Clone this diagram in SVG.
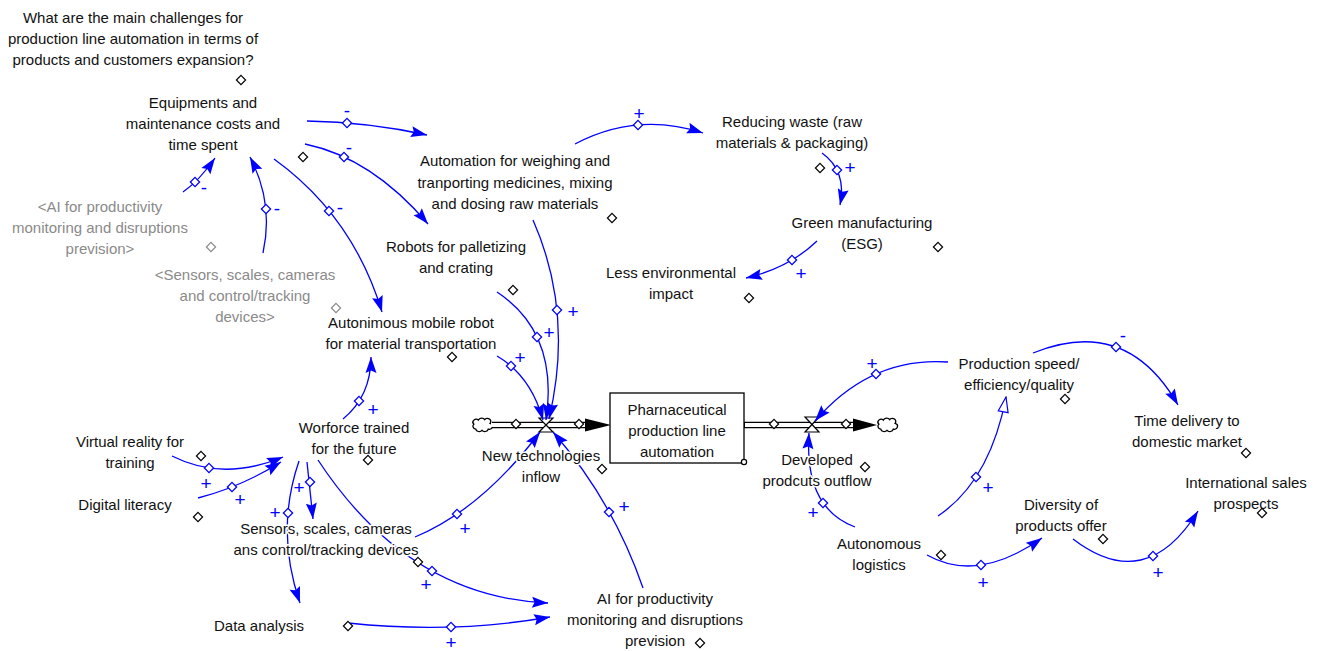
<svg xmlns="http://www.w3.org/2000/svg" width="1322" height="651" viewBox="0 0 1322 651">
<style>
.t{font-family:"Liberation Sans",Arial,sans-serif;font-size:15px;fill:#111;text-anchor:middle;stroke:#fff;stroke-width:3;stroke-linejoin:round;paint-order:stroke}
.g{fill:#8a8a8a}
.pol{font-family:"Liberation Sans",Arial,sans-serif;font-size:19px;fill:#00f;text-anchor:middle}
.lk{fill:none;stroke:#00f;stroke-width:1.3;marker-end:url(#ah)}
.lkh{fill:none;stroke:#00f;stroke-width:1.3;marker-end:url(#ahh)}
.vd{fill:#fff;stroke:#000;stroke-width:1.2}
.gd{fill:#fff;stroke:#8a8a8a;stroke-width:1.2}
.bd{fill:#fff;stroke:#00f;stroke-width:1.3}
.pipeo{stroke:#000;stroke-width:6.5}
.pipei{stroke:#fff;stroke-width:3.8}
.cloud{fill:#fff;stroke:#000;stroke-width:1.5}
.valve{fill:#fff;stroke:#000;stroke-width:1.2}
</style>
<defs>
<path id="dm" d="M0,-4.6 L4.6,0 L0,4.6 L-4.6,0 Z"/>
<path id="cl" d="M-7,5 A3.5,3.5 0 0 1 -9,-1 A3.5,3.5 0 0 1 -4,-6 A4,4 0 0 1 3,-6.5 A3.5,3.5 0 0 1 9,-2 A3.5,3.5 0 0 1 7,5 A4,4 0 0 1 0,6.5 A4,4 0 0 1 -7,5 Z"/>
<marker id="ah" viewBox="-17 -7 18 14" refX="0" refY="0" markerWidth="18" markerHeight="14" markerUnits="userSpaceOnUse" orient="auto"><path d="M0,0 L-16,-5.5 L-13.5,0 L-16,5.5 Z" fill="#00f"/></marker>
<marker id="ahh" viewBox="-17 -7 18 14" refX="0" refY="0" markerWidth="18" markerHeight="14" markerUnits="userSpaceOnUse" orient="auto"><path d="M0,0 L-15,-5 L-15,5 Z" fill="#fff" stroke="#00f" stroke-width="1.2"/></marker>
</defs>
<rect width="1322" height="651" fill="#fff"/>

<g id="flow-in">
<use href="#cl" class="cloud" transform="translate(482,425) scale(0.9,0.82)"/>
<line class="pipeo" x1="492" y1="425" x2="588" y2="425"/>
<line class="pipei" x1="491" y1="425" x2="588" y2="425"/>
<polygon points="585,418.5 611,425 585,431.5" fill="#000"/>
<use href="#dm" class="vd" x="516" y="424"/>
<use href="#dm" class="vd" x="579" y="424"/>
<path class="valve" d="M539,418 H553 L539,432 H553 Z"/>
</g>
<g id="flow-out">
<line class="pipeo" x1="744" y1="425" x2="856" y2="425"/>
<line class="pipei" x1="745" y1="425" x2="856" y2="425"/>
<polygon points="853,418.5 877,425 853,431.5" fill="#000"/>
<use href="#cl" class="cloud" transform="translate(887,425) scale(0.9,0.82)"/>
<use href="#dm" class="vd" x="774" y="424"/>
<use href="#dm" class="vd" x="846" y="424"/>
<path class="valve" d="M805,417 H819 L805,432 H819 Z"/>
</g>
<g id="stock">
<rect x="610" y="393" width="134" height="70" fill="#fff" stroke="#000" stroke-width="1.3"/>
<circle cx="744" cy="462" r="2.6" fill="#fff" stroke="#000" stroke-width="1.2"/>
<text class="t"><tspan x="677" y="415">Pharnaceutical</tspan><tspan x="677" y="436">production line</tspan><tspan x="677" y="457">automation</tspan></text>
</g>

<g id="connectors">
<path class="lk" d="M307,121 Q368,122 427,135"/>
<path class="lk" d="M305,144 Q372,158 428,224"/>
<path class="lk" d="M274,159 Q353,216 382,312"/>
<path class="lk" d="M183,192 Q199,181 215,158"/>
<path class="lk" d="M263,253 Q274,203 250,157"/>
<path class="lk" d="M575,144 Q637,111.5 703,133"/>
<path class="lk" d="M822,153 Q847,171 840,205"/>
<path class="lk" d="M817,241 Q789,268 746,278"/>
<path class="lk" d="M533,220 Q574,313 549,419"/>
<path class="lk" d="M497,292 Q559,333 546,420"/>
<path class="lk" d="M497,356 Q531,376 543,420"/>
<path class="lk" d="M415,537 Q482,509 540,432"/>
<path class="lk" d="M643,588 Q613,501 553,432"/>
<path class="lk" d="M343,419 Q371,396 371,357"/>
<path class="lk" d="M172,456 Q223,482 283,457"/>
<path class="lk" d="M198,498 Q241,487 281,462"/>
<path class="lk" d="M307,462 L313,519"/>
<path class="lk" d="M299,461 Q275,531 300,603"/>
<path class="lk" d="M318,460 Q408,597 548,603"/>
<path class="lk" d="M348,623 Q453,634 550,617"/>
<path class="lk" d="M948,362 Q870.5,356.5 815,421"/>
<path class="lk" d="M1033,353 Q1126.5,315 1178,405"/>
<path class="lkh" d="M938,516 Q990,481 1006,397"/>
<path class="lk" d="M855,527 Q804,508 809,433"/>
<path class="lk" d="M927,555 Q977.5,583.5 1042,538"/>
<path class="lk" d="M1073,539 Q1146,595 1198,511"/>
<g>
<use href="#dm" class="bd" x="347" y="123"/>
<use href="#dm" class="bd" x="344" y="157"/>
<use href="#dm" class="bd" x="329" y="211"/>
<use href="#dm" class="bd" x="195" y="182"/>
<use href="#dm" class="bd" x="266" y="209"/>
<use href="#dm" class="bd" x="638" y="125"/>
<use href="#dm" class="bd" x="837" y="170"/>
<use href="#dm" class="bd" x="792" y="260"/>
<use href="#dm" class="bd" x="557" y="310"/>
<use href="#dm" class="bd" x="537" y="337"/>
<use href="#dm" class="bd" x="511" y="366"/>
<use href="#dm" class="bd" x="457" y="514"/>
<use href="#dm" class="bd" x="609" y="512"/>
<use href="#dm" class="bd" x="359" y="401"/>
<use href="#dm" class="bd" x="209" y="468"/>
<use href="#dm" class="bd" x="232" y="487"/>
<use href="#dm" class="bd" x="310" y="482"/>
<use href="#dm" class="bd" x="288" y="513"/>
<use href="#dm" class="bd" x="432" y="571"/>
<use href="#dm" class="bd" x="451" y="627"/>
<use href="#dm" class="bd" x="876" y="374"/>
<use href="#dm" class="bd" x="1116" y="347"/>
<use href="#dm" class="bd" x="976" y="477"/>
<use href="#dm" class="bd" x="823" y="503"/>
<use href="#dm" class="bd" x="981" y="565"/>
<use href="#dm" class="bd" x="1153" y="556"/>
</g>
<g>
<text class="pol" x="347" y="117">-</text>
<text class="pol" x="349" y="154">-</text>
<text class="pol" x="340" y="214">-</text>
<text class="pol" x="204" y="194">-</text>
<text class="pol" x="277" y="215">-</text>
<text class="pol" x="639" y="119.5">+</text>
<text class="pol" x="850" y="173.5">+</text>
<text class="pol" x="801" y="279.5">+</text>
<text class="pol" x="573" y="317.5">+</text>
<text class="pol" x="549" y="338.5">+</text>
<text class="pol" x="520" y="363.5">+</text>
<text class="pol" x="465" y="534.5">+</text>
<text class="pol" x="624" y="512.5">+</text>
<text class="pol" x="373" y="415.5">+</text>
<text class="pol" x="206" y="489.5">+</text>
<text class="pol" x="240" y="505.5">+</text>
<text class="pol" x="299" y="493.5">+</text>
<text class="pol" x="275" y="519">+</text>
<text class="pol" x="426" y="590.5">+</text>
<text class="pol" x="451" y="648.5">+</text>
<text class="pol" x="872" y="369.5">+</text>
<text class="pol" x="1123" y="342">-</text>
<text class="pol" x="988" y="493.5">+</text>
<text class="pol" x="813" y="518.5">+</text>
<text class="pol" x="983" y="588.5">+</text>
<text class="pol" x="1158" y="578.5">+</text>
</g>
</g>

<g id="question">
<text class="t"><tspan x="133" y="23">What are the main challenges for</tspan><tspan x="133" y="44">production line automation in terms of</tspan><tspan x="133" y="65">products and customers expansion?</tspan></text>
<use href="#dm" class="vd" x="241" y="80"/>
</g>
<g id="equipments">
<text class="t"><tspan x="203" y="108">Equipments and</tspan><tspan x="203" y="129">maintenance costs and</tspan><tspan x="203" y="150">time spent</tspan></text>
<use href="#dm" class="vd" x="303" y="157"/>
</g>
<g id="ai-shadow">
<text class="t g"><tspan x="100" y="212">&lt;AI for productivity</tspan><tspan x="100" y="233">monitoring and disruptions</tspan><tspan x="100" y="254">prevision&gt;</tspan></text>
<use href="#dm" class="gd" x="211" y="247"/>
</g>
<g id="sensors-shadow">
<text class="t g"><tspan x="245" y="280">&lt;Sensors, scales, cameras</tspan><tspan x="245" y="301">and control/tracking</tspan><tspan x="245" y="322">devices&gt;</tspan></text>
<use href="#dm" class="gd" x="336" y="308"/>
</g>
<g id="automation">
<text class="t"><tspan x="515" y="166">Automation for weighing and</tspan><tspan x="515" y="188">tranporting medicines, mixing</tspan><tspan x="515" y="209">and dosing raw materials</tspan></text>
<use href="#dm" class="vd" x="612" y="218"/>
</g>
<g id="robots">
<text class="t"><tspan x="456" y="252">Robots for palletizing</tspan><tspan x="456" y="273">and crating</tspan></text>
<use href="#dm" class="vd" x="513" y="290"/>
</g>
<g id="reducing-waste">
<text class="t"><tspan x="792" y="127">Reducing waste (raw</tspan><tspan x="792" y="148">materials &amp; packaging)</tspan></text>
<use href="#dm" class="vd" x="820" y="168"/>
</g>
<g id="green">
<text class="t"><tspan x="862" y="228">Green manufacturing</tspan><tspan x="862" y="249">(ESG)</tspan></text>
<use href="#dm" class="vd" x="938" y="247"/>
</g>
<g id="less-env">
<text class="t"><tspan x="671" y="278">Less environmental</tspan><tspan x="671" y="299">impact</tspan></text>
<use href="#dm" class="vd" x="749" y="298"/>
</g>
<g id="amr">
<text class="t"><tspan x="411" y="328">Autonimous mobile robot</tspan><tspan x="411" y="349">for material transportation</tspan></text>
<use href="#dm" class="vd" x="452" y="357"/>
</g>
<g id="workforce">
<text class="t"><tspan x="354" y="433">Worforce trained</tspan><tspan x="354" y="454">for the future</tspan></text>
<use href="#dm" class="vd" x="368" y="460"/>
</g>
<g id="vr">
<text class="t"><tspan x="130" y="447">Virtual reality for</tspan><tspan x="130" y="468">training</tspan></text>
<use href="#dm" class="vd" x="201" y="456"/>
</g>
<g id="digital">
<text class="t" x="125" y="510">Digital literacy</text>
<use href="#dm" class="vd" x="198" y="517"/>
</g>
<g id="sensors">
<text class="t"><tspan x="326" y="534">Sensors, scales, cameras</tspan><tspan x="326" y="555">ans control/tracking devices</tspan></text>
<use href="#dm" class="vd" x="418" y="562"/>
</g>
<g id="data">
<text class="t" x="259" y="631">Data analysis</text>
<use href="#dm" class="vd" x="348" y="626"/>
</g>
<g id="ai">
<text class="t"><tspan x="655" y="604">AI for productivity</tspan><tspan x="655" y="625">monitoring and disruptions</tspan><tspan x="655" y="646">prevision</tspan></text>
<use href="#dm" class="vd" x="700" y="643"/>
</g>
<g id="inflow">
<text class="t"><tspan x="541" y="461">New technologies</tspan><tspan x="541" y="482">inflow</tspan></text>
<use href="#dm" class="vd" x="602" y="469"/>
</g>
<g id="outflow">
<text class="t"><tspan x="817" y="465">Developed</tspan><tspan x="817" y="486">prodcuts outflow</tspan></text>
<use href="#dm" class="vd" x="865" y="467"/>
</g>
<g id="speed">
<text class="t"><tspan x="1019" y="369">Production speed/</tspan><tspan x="1019" y="390">efficiency/quality</tspan></text>
<use href="#dm" class="vd" x="1065" y="399"/>
</g>
<g id="delivery">
<text class="t"><tspan x="1187" y="426">Time delivery to</tspan><tspan x="1187" y="447">domestic market</tspan></text>
<use href="#dm" class="vd" x="1246" y="453"/>
</g>
<g id="intl">
<text class="t"><tspan x="1246" y="488">International sales</tspan><tspan x="1246" y="509">prospects</tspan></text>
<use href="#dm" class="vd" x="1262" y="513"/>
</g>
<g id="diversity">
<text class="t"><tspan x="1061" y="510">Diversity of</tspan><tspan x="1061" y="531">products offer</tspan></text>
<use href="#dm" class="vd" x="1103" y="539"/>
</g>
<g id="logistics">
<text class="t"><tspan x="879" y="549">Autonomous</tspan><tspan x="879" y="570">logistics</tspan></text>
<use href="#dm" class="vd" x="941" y="555"/>
</g>
</svg>
